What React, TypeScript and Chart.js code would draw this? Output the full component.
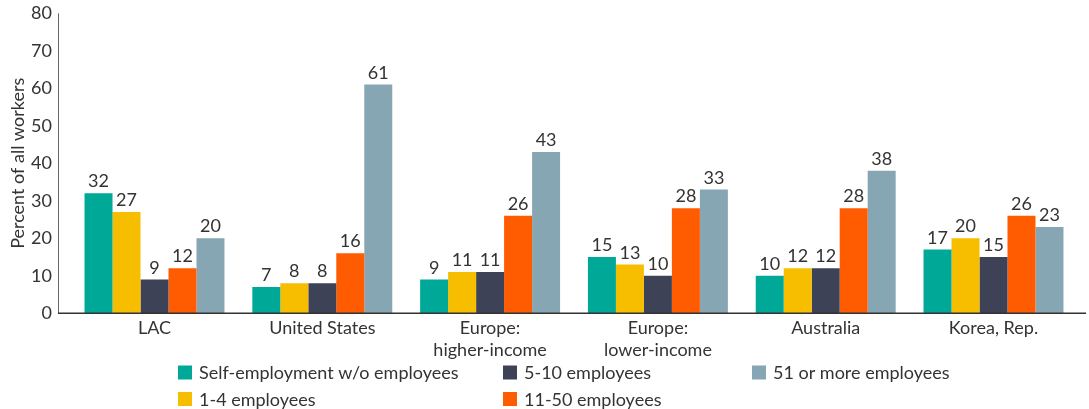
import React, { useEffect, useRef } from "react";
import { Chart, registerables } from "chart.js";

Chart.register(...registerables);

const categories: (string | string[])[] = [
  "LAC",
  "United States",
  ["Europe:", "higher-income"],
  ["Europe:", "lower-income"],
  "Australia",
  "Korea, Rep.",
];

const seriesNames = [
  "Self-employment w/o employees",
  "1-4 employees",
  "5-10 employees",
  "11-50 employees",
  "51 or more employees",
];

const selfEmployed = [32, 7, 9, 15, 10, 17];
const emp1to4 = [27, 8, 11, 13, 12, 20];
const emp5to10 = [9, 8, 11, 10, 12, 15];
const emp11to50 = [12, 16, 26, 28, 28, 26];
const emp51plus = [20, 61, 43, 33, 38, 23];

const yTicks = [0, 10, 20, 30, 40, 50, 60, 70, 80];

const colors = ["#00A897", "#F7BE00", "#3D4257", "#FF5B00", "#87A6B3"];

const FONT = "Lato, 'Noto Sans', sans-serif";
const TEXT = "#333333";
const FS = 18;

export default function App() {
  const ref = useRef<HTMLCanvasElement | null>(null);

  useEffect(() => {
    if (!ref.current) return;
    const values = [selfEmployed, emp1to4, emp5to10, emp11to50, emp51plus];

    const axesPlugin = {
      id: "axesLines",
      afterDatasetsDraw(chart: any) {
        const ctx = chart.ctx;
        const { top, bottom } = chart.chartArea;
        const ax = 58;
        ctx.save();
        ctx.strokeStyle = "#666";
        ctx.lineWidth = 1;
        ctx.beginPath();
        ctx.moveTo(ax + 0.5, top);
        ctx.lineTo(ax + 0.5, bottom);
        ctx.stroke();
        ctx.strokeStyle = "#333";
        ctx.lineWidth = 1.5;
        ctx.beginPath();
        ctx.moveTo(ax, bottom);
        ctx.lineTo(1086, bottom);
        ctx.stroke();
        ctx.restore();
      },
    };

    const labelPlugin = {
      id: "dataLabels",
      afterDatasetsDraw(chart: any) {
        const ctx = chart.ctx;
        ctx.save();
        ctx.font = `${FS}px ${FONT}`;
        ctx.fillStyle = TEXT;
        ctx.textAlign = "center";
        ctx.textBaseline = "alphabetic";
        chart.data.datasets.forEach((ds: any, i: number) => {
          const meta = chart.getDatasetMeta(i);
          meta.data.forEach((el: any, j: number) => {
            ctx.fillText(String(ds.data[j]), el.x, el.y - 6);
          });
        });
        ctx.restore();
      },
    };

    const legendPlugin = {
      id: "gridLegend",
      afterDraw(chart: any) {
        const ctx = chart.ctx;
        const cols = [178, 503, 752];
        const rows = [372.5, 399];
        const layout = [
          [0, 0],
          [0, 1],
          [1, 0],
          [1, 1],
          [2, 0],
        ];
        ctx.save();
        ctx.font = `${FS}px ${FONT}`;
        ctx.textAlign = "left";
        ctx.textBaseline = "middle";
        seriesNames.forEach((name, i) => {
          const [c, r] = layout[i];
          const x = cols[c];
          const y = rows[r];
          ctx.fillStyle = colors[i];
          ctx.fillRect(x, y - 7, 14, 14);
          ctx.fillStyle = TEXT;
          ctx.fillText(name, x + 21, y + 1);
        });
        ctx.restore();
      },
    };

    const chart = new Chart(ref.current, {
      type: "bar",
      data: {
        labels: categories,
        datasets: seriesNames.map((name, i) => ({
          label: name,
          data: values[i],
          backgroundColor: colors[i],
          borderWidth: 0,
          categoryPercentage: 0.834,
          barPercentage: 1,
        })),
      },
      options: {
        responsive: false,
        animation: false,
        layout: { padding: { top: 13.3, right: 11.6, bottom: 0, left: 0 } },
        plugins: {
          legend: { display: false },
          tooltip: { enabled: false },
        },
        scales: {
          x: {
            grid: { display: false, drawTicks: false },
            border: { display: false },
            ticks: {
              color: TEXT,
              font: { family: FONT, size: FS, lineHeight: 1.22 },
              padding: 4,
              maxRotation: 0,
              autoSkip: false,
            },
            afterFit(scale: any) {
              scale.height = 409 - 313.3;
              scale.paddingLeft = 0;
              scale.paddingRight = 0;
            },
          },
          y: {
            min: 0,
            max: 80,
            afterBuildTicks(scale: any) {
              scale.ticks = yTicks.map((v) => ({ value: v }));
            },
            grid: { display: false, drawTicks: false },
            border: { display: false },
            ticks: {
              color: TEXT,
              font: { family: FONT, size: FS },
              padding: 18.6,
            },
            title: {
              display: true,
              text: "Percent of all workers",
              color: TEXT,
              font: { family: FONT, size: FS, lineHeight: 1.2 },
              padding: { top: 7, bottom: 0 },
            },
            afterFit(scale: any) {
              scale.width = 70.6;
              scale.paddingTop = 0;
              scale.paddingBottom = 0;
            },
          },
        },
      },
      plugins: [axesPlugin, labelPlugin, legendPlugin],
    });

    return () => chart.destroy();
  }, []);

  return (
    <div style={{ position: "absolute", left: 0, top: 0, width: 1089, height: 409 }}>
      <canvas ref={ref} width={1089} height={409} style={{ display: "block" }} />
    </div>
  );
}
